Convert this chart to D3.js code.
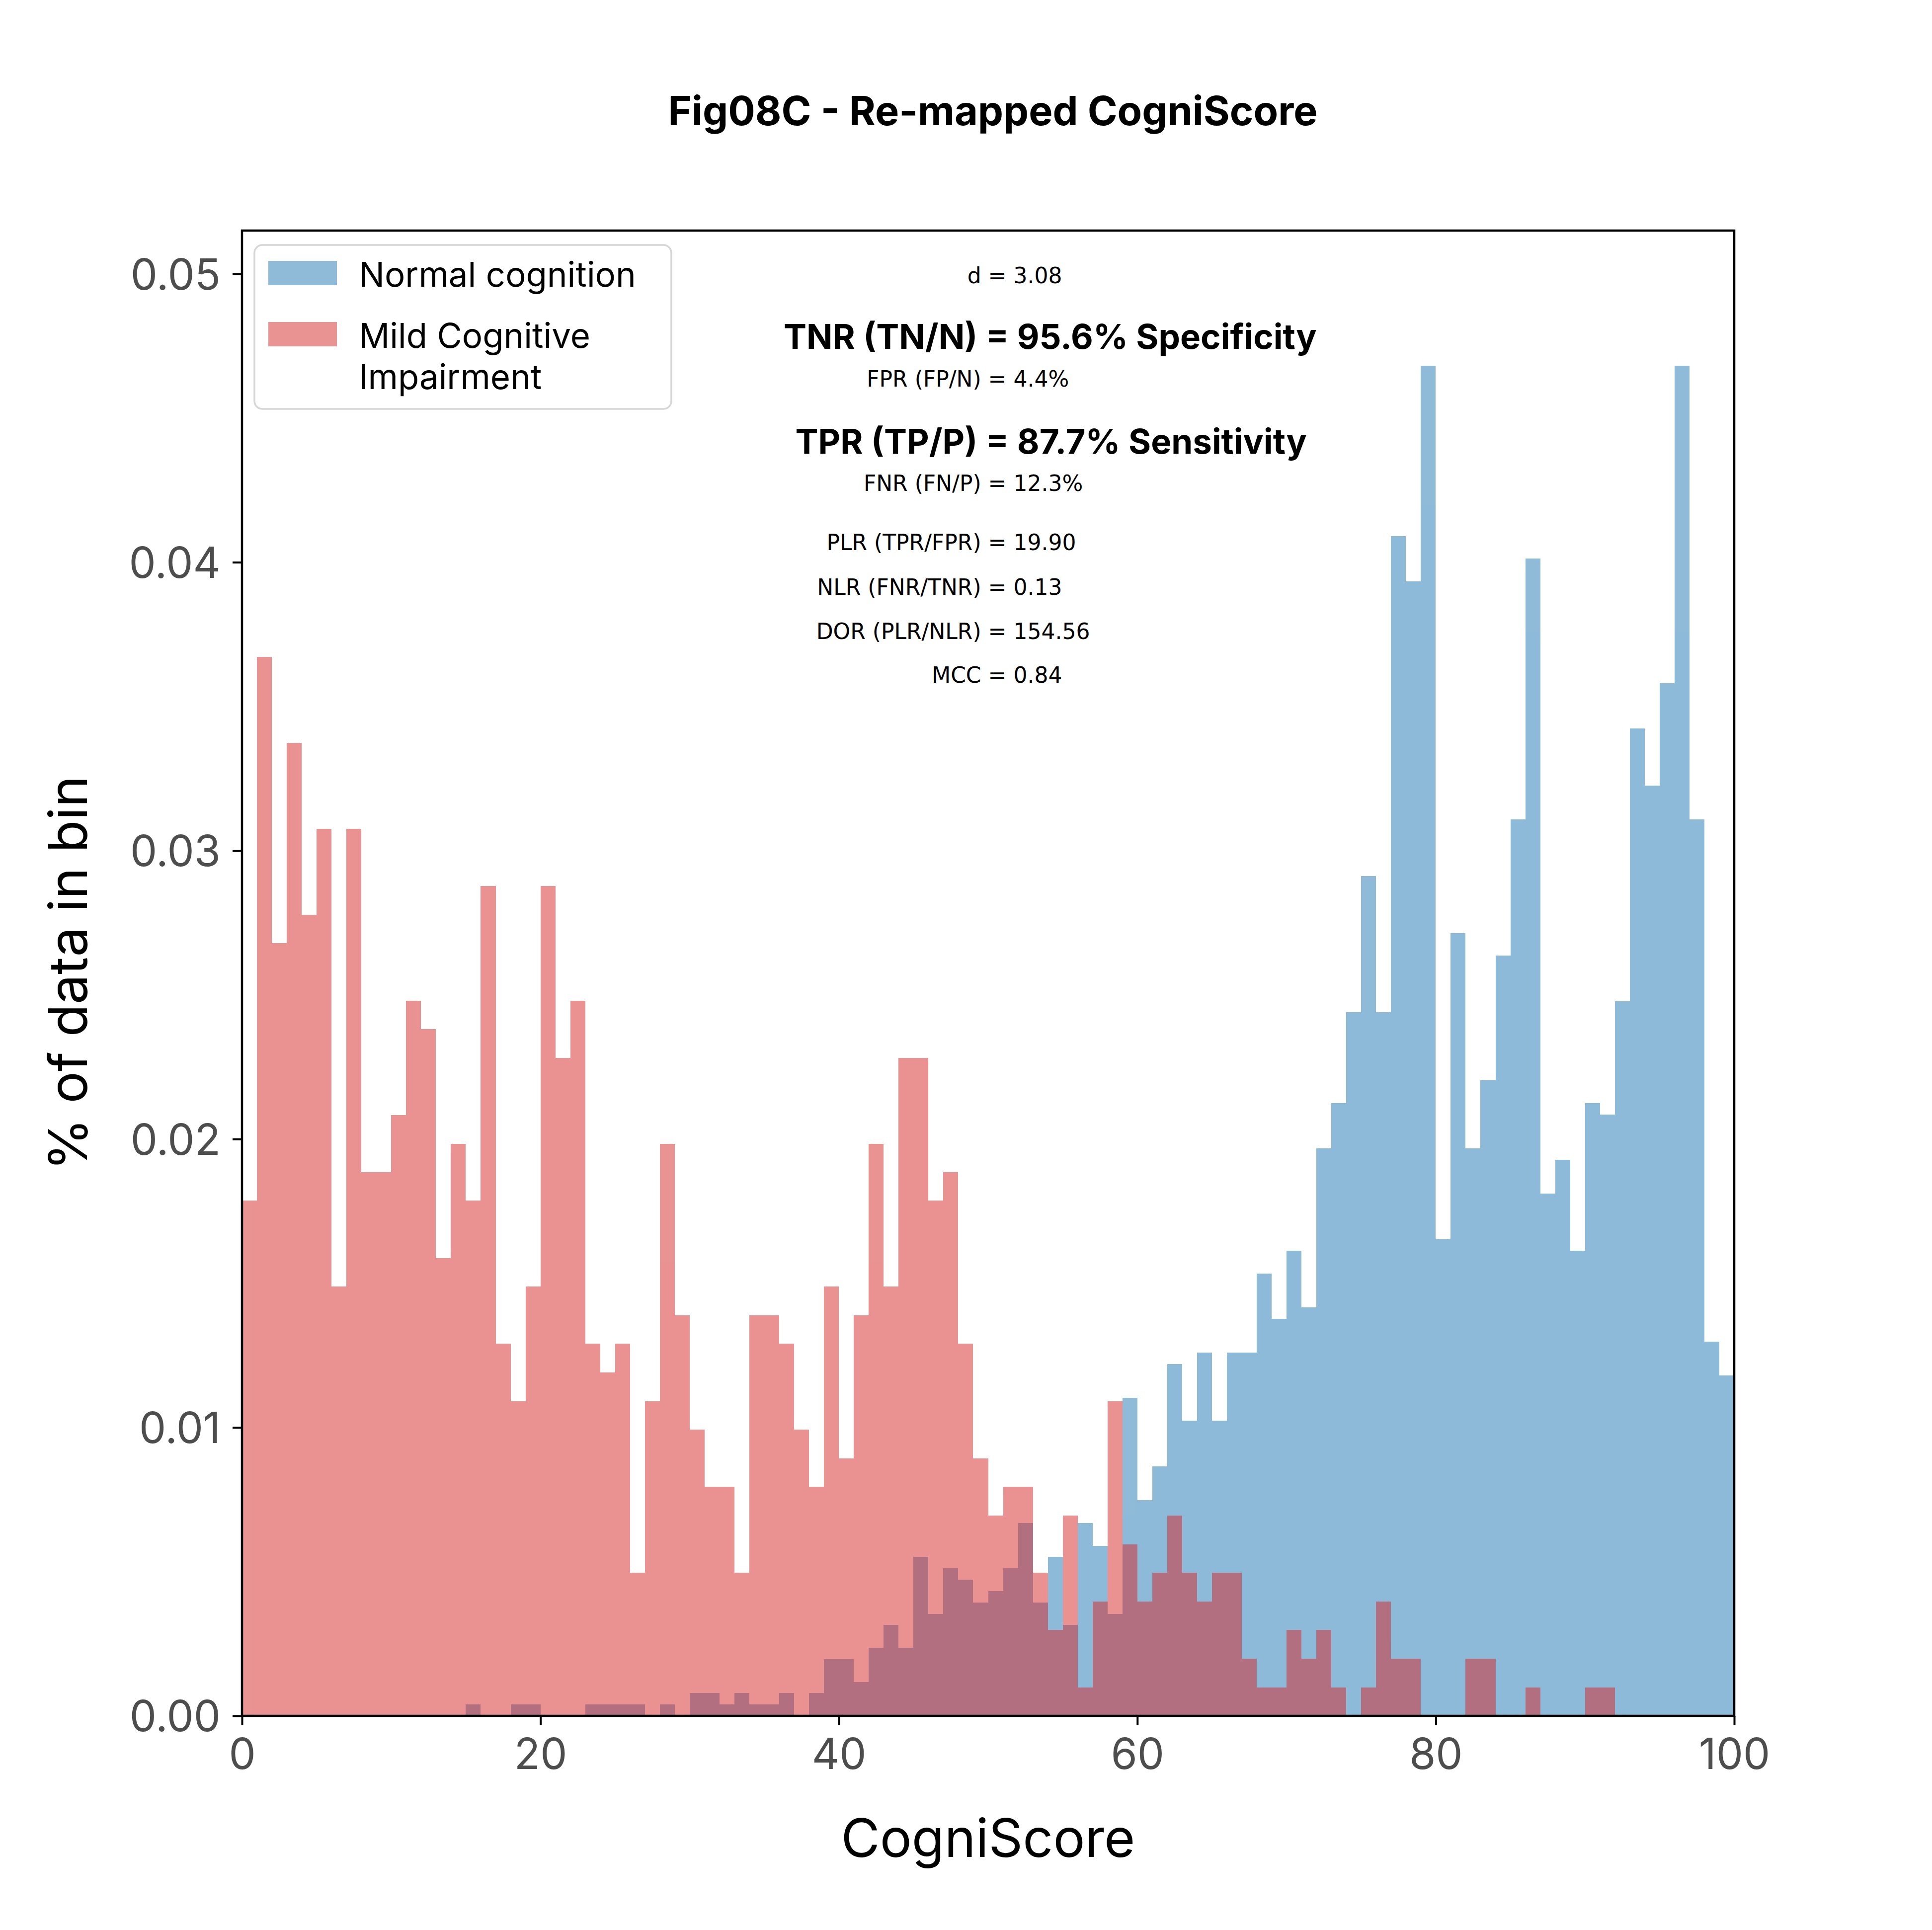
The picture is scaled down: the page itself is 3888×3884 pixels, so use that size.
<!DOCTYPE html>
<html>
<head>
<meta charset="utf-8">
<script src="https://cdn.jsdelivr.net/npm/d3@7"></script>
<style>
html, body { margin: 0; padding: 0; background: #ffffff; }
svg { display: block; }
</style>
</head>
<body>
<div id="chart"></div>
<script>
// ---------------- DATA ----------------
// Histogram bins: 100 bins of width 1 on CogniScore 0..100 (bin start values)
const binStarts = d3.range(0, 100);

// Normal cognition: fraction of data in each bin
const normalCognition = [
  0, 0, 0, 0, 0, 0, 0, 0, 0, 0,
  0, 0, 0, 0, 0, 0.00039, 0, 0, 0.00039, 0.00039,
  0, 0, 0, 0.00039, 0.00039, 0.00039, 0.00039, 0, 0.00039, 0,
  0.00079, 0.00079, 0.00039, 0.00079, 0.00039, 0.00039, 0.00079, 0, 0.00079, 0.00197,
  0.00197, 0.00118, 0.00236, 0.00315, 0.00236, 0.00551, 0.00354, 0.00511, 0.00472, 0.00393,
  0.00433, 0.00511, 0.00669, 0.00393, 0.00551, 0.00315, 0.00669, 0.00590, 0.00354, 0.01102,
  0.00747, 0.00865, 0.01220, 0.01023, 0.01259, 0.01023, 0.01259, 0.01259, 0.01534, 0.01377,
  0.01613, 0.01416, 0.01967, 0.02124, 0.02439, 0.02911, 0.02439, 0.04091, 0.03934, 0.04681,
  0.01652, 0.02714, 0.01967, 0.02203, 0.02636, 0.03108, 0.04013, 0.01810, 0.01928, 0.01613,
  0.02124, 0.02085, 0.02478, 0.03423, 0.03226, 0.03580, 0.04681, 0.03108, 0.01298, 0.01180
];

// Mild Cognitive Impairment: fraction of data in each bin
const mildCognitiveImpairment = [
  0.01786, 0.03671, 0.02679, 0.03373, 0.02778, 0.03075, 0.01488, 0.03075, 0.01885, 0.01885,
  0.02083, 0.02480, 0.02381, 0.01587, 0.01984, 0.01786, 0.02877, 0.01290, 0.01091, 0.01488,
  0.02877, 0.02282, 0.02480, 0.01290, 0.01190, 0.01290, 0.00496, 0.01091, 0.01984, 0.01389,
  0.00992, 0.00794, 0.00794, 0.00496, 0.01389, 0.01389, 0.01290, 0.00992, 0.00794, 0.01488,
  0.00893, 0.01389, 0.01984, 0.01488, 0.02282, 0.02282, 0.01786, 0.01885, 0.01290, 0.00893,
  0.00694, 0.00794, 0.00794, 0.00496, 0.00298, 0.00694, 0.00099, 0.00397, 0.01091, 0.00595,
  0.00397, 0.00496, 0.00694, 0.00496, 0.00397, 0.00496, 0.00496, 0.00198, 0.00099, 0.00099,
  0.00298, 0.00198, 0.00298, 0.00099, 0, 0.00099, 0.00397, 0.00198, 0.00198, 0,
  0, 0, 0.00198, 0.00198, 0, 0, 0.00099, 0, 0, 0,
  0.00099, 0.00099, 0, 0, 0, 0, 0, 0, 0, 0
];

const seriesNames = ["Normal cognition", ["Mild Cognitive", "Impairment"]];
const xTickValues = [0, 20, 40, 60, 80, 100];
const yTickValues = [0.00, 0.01, 0.02, 0.03, 0.04, 0.05];
const xDomain = [0, 100];
const yDomain = [0, 0.0515];

const titleText = "Fig08C - Re-mapped CogniScore";
const xLabelText = "CogniScore";
const yLabelText = "% of data in bin";

const statLabels = ["d", "TNR (TN/N)", "FPR (FP/N)", "TPR (TP/P)", "FNR (FN/P)",
                    "PLR (TPR/FPR)", "NLR (FNR/TNR)", "DOR (PLR/NLR)", "MCC"];
const statValues = ["3.08", "95.6% Specificity", "4.4%", "87.7% Sensitivity", "12.3%",
                    "19.90", "0.13", "154.56", "0.84"];
const statBold = [false, true, false, true, false, false, false, false, false];

// ---------------- LAYOUT ----------------
const W = 3888, H = 3884;
const plot = { left: 487, right: 3490, top: 464, bottom: 3453 };
const statBaselines = [570, 702, 778, 913, 988, 1107, 1197, 1285.5, 1374];
const statEqX = 2007;

const colors = { normal: "#1f77b4", mci: "#d62728" };
const tickColor = "#4d4d4d";

const svg = d3.select("#chart").append("svg")
  .attr("width", W).attr("height", H)
  .attr("viewBox", `0 0 ${W} ${H}`);

svg.append("rect").attr("width", W).attr("height", H).attr("fill", "#ffffff");

const x = d3.scaleLinear().domain(xDomain).range([plot.left, plot.right]);
const y = d3.scaleLinear().domain(yDomain).range([plot.bottom, plot.top]);

function drawHist(values, color, cls) {
  const g = svg.append("g").attr("class", cls).attr("opacity", 0.5);
  const data = binStarts.map((b, i) => ({ b, v: values[i] })).filter(d => d.v > 0);
  g.selectAll("rect").data(data).enter().append("rect")
    .attr("x", d => Math.round(x(d.b)))
    .attr("width", d => Math.round(x(d.b + 1)) - Math.round(x(d.b)))
    .attr("y", d => Math.round(y(d.v)))
    .attr("height", d => Math.round(y(0)) - Math.round(y(d.v)))
    .attr("fill", color)
    .attr("shape-rendering", "crispEdges");
}
drawHist(normalCognition, colors.normal, "bars-normal");
drawHist(mildCognitiveImpairment, colors.mci, "bars-mci");

// Axes
const tickLen = 19, tickW = 4;
const xAxis = d3.axisBottom(x).tickValues(xTickValues).tickSize(tickLen).tickPadding(26)
  .tickFormat(d3.format("d"));
const yAxis = d3.axisLeft(y).tickValues(yTickValues).tickSize(tickLen).tickPadding(24)
  .tickFormat(d3.format(".2f"));

const gx = svg.append("g").attr("transform", `translate(0,${plot.bottom})`).call(xAxis);
const gy = svg.append("g").attr("transform", `translate(${plot.left},0)`).call(yAxis);
[gx, gy].forEach(g => {
  g.select(".domain").remove();
  g.selectAll(".tick line").attr("stroke", "#000").attr("stroke-width", tickW);
  g.selectAll(".tick text")
    .attr("fill", tickColor)
    .style("font-family", "Inter, 'Noto Sans', sans-serif")
    .style("font-size", "86px");
});
gx.selectAll(".tick text").attr("dy", "0.72em");
gy.selectAll(".tick text").attr("dy", "0.36em");

// Spines
svg.append("rect")
  .attr("x", plot.left).attr("y", plot.top)
  .attr("width", plot.right - plot.left).attr("height", plot.bottom - plot.top)
  .attr("fill", "none").attr("stroke", "#000").attr("stroke-width", 4.5);

// Axis labels
svg.append("text")
  .attr("x", (plot.left + plot.right) / 2).attr("y", 3737)
  .attr("text-anchor", "middle")
  .style("font-family", "Inter, sans-serif").style("font-size", "107px")
  .attr("fill", "#000").text(xLabelText);

svg.append("text")
  .attr("transform", `translate(175,${(plot.top + plot.bottom) / 2}) rotate(-90)`)
  .attr("text-anchor", "middle")
  .style("font-family", "Inter, sans-serif").style("font-size", "107px")
  .attr("fill", "#000").text(yLabelText);

// Title
svg.append("text")
  .attr("x", 1998).attr("y", 252)
  .attr("text-anchor", "middle")
  .style("font-family", "Inter, sans-serif").style("font-size", "81px")
  .style("font-weight", "700")
  .attr("fill", "#000").text(titleText);

// Legend
const lg = svg.append("g").attr("class", "legend");
lg.append("rect")
  .attr("x", 512).attr("y", 493).attr("width", 839).attr("height", 330)
  .attr("rx", 16).attr("ry", 16)
  .attr("fill", "#ffffff").attr("fill-opacity", 0.8)
  .attr("stroke", "#d6d6d6").attr("stroke-width", 3.5);
const legendItems = [
  { color: colors.normal, lines: [seriesNames[0]], patchY: 525, textY: 577 },
  { color: colors.mci, lines: seriesNames[1], patchY: 648, textY: 700 }
];
legendItems.forEach(item => {
  lg.append("rect").attr("x", 540).attr("y", item.patchY)
    .attr("width", 138).attr("height", 49)
    .attr("fill", item.color).attr("fill-opacity", 0.5);
  item.lines.forEach((ln, j) => {
    lg.append("text").attr("x", 722).attr("y", item.textY + j * 83)
      .style("font-family", "Inter, sans-serif").style("font-size", "69px")
      .attr("fill", "#000").text(ln);
  });
});

// Statistics annotations, aligned on the "=" sign
const sg = svg.append("g").attr("class", "stats");
statLabels.forEach((lab, i) => {
  const str = lab + " = " + statValues[i];
  const t = sg.append("text")
    .attr("x", 0).attr("y", statBaselines[i])
    .style("font-family", statBold[i] ? "Inter, sans-serif" : "'DejaVu Sans', sans-serif")
    .style("font-size", statBold[i] ? "69px" : "44px")
    .style("font-weight", statBold[i] ? "700" : "400")
    .attr("fill", "#000")
    .text(str);
  const idx = str.indexOf("=");
  let shift = 0;
  try {
    const ext = t.node().getExtentOfChar(idx);
    shift = ext.x + ext.width / 2;
  } catch (e) {
    shift = t.node().getComputedTextLength() / 2;
  }
  t.attr("x", statEqX - shift);
});
</script>
</body>
</html>
